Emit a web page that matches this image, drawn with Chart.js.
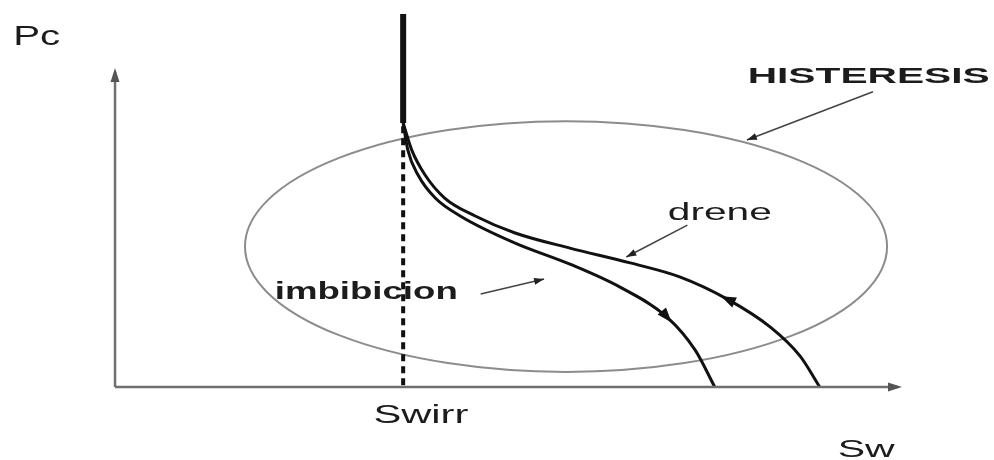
<!DOCTYPE html>
<html lang="es">
<head>
    <meta charset="UTF-8">
    <title>Histeresis - Pc vs Sw</title>
    <script src="https://cdn.jsdelivr.net/npm/chart.js"></script>
    <style>
        body { margin: 0; background: #fff; }
        #wrap { width: 994px; height: 460px; position: relative; }
    </style>
</head>
<body>
    <div id="wrap"><canvas id="pcChart"></canvas></div>

    <script>
        // Sw en fraccion (0..1 a lo largo del eje), Pc normalizada (0..1 a lo largo del eje)
        const drenajeSw = [0.368, 0.379, 0.396, 0.421, 0.460, 0.511, 0.581, 0.658, 0.722, 0.782, 0.837, 0.875, 0.900];
        const drenajePc = [0.838, 0.752, 0.673, 0.600, 0.543, 0.489, 0.441, 0.394, 0.349, 0.279, 0.190, 0.098, 0.000];

        const imbibicionSw = [0.368, 0.374, 0.387, 0.409, 0.443, 0.511, 0.581, 0.645, 0.705, 0.741, 0.766];
        const imbibicionPc = [0.838, 0.752, 0.673, 0.600, 0.540, 0.457, 0.390, 0.317, 0.222, 0.117, 0.000];

        const swirr = 0.368;
        const pcTop = 1.184;     // tramo vertical superior
        const pcJoin = 0.838;    // donde se separan las curvas

        // elipse de histeresis: centro y semiejes
        const hystCenter = [0.576, 0.446];
        const hystRadius = [0.410, 0.398];

        const labels = ['Pc', 'Sw', 'Swirr', 'HISTERESIS', 'drene', 'imbibicion'];

        function pts(xs, ys) {
            return xs.map((x, i) => ({ x: x, y: ys[i] }));
        }

        const lineBase = { pointRadius: 0, showLine: true, fill: false };

        const datasets = [
            Object.assign({}, lineBase, { data: [{ x: 0, y: 0 }, { x: 1, y: 0 }], borderColor: '#6f6f6f', borderWidth: 2.5 }),
            Object.assign({}, lineBase, { data: [{ x: 0, y: 0 }, { x: 0, y: 1 }], borderColor: '#6f6f6f', borderWidth: 2.5 }),
            Object.assign({}, lineBase, { data: [{ x: swirr, y: pcJoin - 0.01 }, { x: swirr, y: 0 }], borderColor: '#111', borderWidth: 4, borderDash: [7, 5] }),
            Object.assign({}, lineBase, { data: [{ x: swirr, y: pcTop }, { x: swirr, y: pcJoin }], borderColor: '#111', borderWidth: 6 }),
            Object.assign({}, lineBase, { data: pts(drenajeSw, drenajePc), borderColor: '#111', borderWidth: 3, cubicInterpolationMode: 'monotone' }),
            Object.assign({}, lineBase, { data: pts(imbibicionSw, imbibicionPc), borderColor: '#111', borderWidth: 3, cubicInterpolationMode: 'monotone' })
        ];

        function head(ctx, x, y, ang, len, wid, color) {
            ctx.save();
            ctx.translate(x, y);
            ctx.rotate(ang);
            ctx.fillStyle = color;
            ctx.beginPath();
            ctx.moveTo(0, 0);
            ctx.lineTo(-len, -wid / 2);
            ctx.lineTo(-len, wid / 2);
            ctx.closePath();
            ctx.fill();
            ctx.restore();
        }

        function stretchText(ctx, text, x, y, font, width) {
            ctx.save();
            ctx.font = font;
            const w = ctx.measureText(text).width;
            ctx.translate(x, y);
            ctx.scale(width / w, 1);
            ctx.fillStyle = '#1c1c1c';
            ctx.textBaseline = 'alphabetic';
            ctx.fillText(text, 0, 0);
            ctx.restore();
        }

        const schematic = {
            id: 'schematic',
            beforeDatasetsDraw(chart) {
                const ctx = chart.ctx, sx = chart.scales.x, sy = chart.scales.y;
                const cx = sx.getPixelForValue(hystCenter[0]);
                const cy = sy.getPixelForValue(hystCenter[1]);
                const rx = sx.getPixelForValue(hystCenter[0] + hystRadius[0]) - cx;
                const ry = cy - sy.getPixelForValue(hystCenter[1] + hystRadius[1]);
                ctx.save();
                ctx.strokeStyle = '#8c8c8c';
                ctx.lineWidth = 2;
                ctx.beginPath();
                ctx.ellipse(cx, cy, rx, ry, 0, 0, Math.PI * 2);
                ctx.stroke();
                ctx.restore();
            },
            afterDatasetsDraw(chart) {
                const ctx = chart.ctx, sx = chart.scales.x, sy = chart.scales.y;
                const P = (x, y) => [sx.getPixelForValue(x), sy.getPixelForValue(y)];

                // puntas de los ejes
                let a = P(1, 0), b = P(0, 1);
                head(ctx, a[0] + 4, a[1], 0, 14, 9, '#555');
                head(ctx, b[0], b[1] - 4, -Math.PI / 2, 14, 9, '#555');

                // flechas sobre las curvas
                const arrows = [
                    { at: [0.782, 0.279], toward: [0.722, 0.349] },
                    { at: [0.705, 0.222], toward: [0.741, 0.117] }
                ];
                arrows.forEach(ar => {
                    const p = P(ar.at[0], ar.at[1]), q = P(ar.toward[0], ar.toward[1]);
                    const ang = Math.atan2(q[1] - p[1], q[0] - p[0]);
                    head(ctx, p[0] + 7 * Math.cos(ang), p[1] + 7 * Math.sin(ang), ang, 15, 11, '#111');
                });

                // lineas indicadoras
                const leaders = [
                    { from: [0.968, 0.937], to: [0.807, 0.784] },
                    { from: [0.731, 0.514], to: [0.653, 0.413] },
                    { from: [0.467, 0.295], to: [0.548, 0.343] }
                ];
                ctx.save();
                ctx.strokeStyle = '#444';
                ctx.lineWidth = 1.6;
                leaders.forEach(l => {
                    const p = P(l.from[0], l.from[1]), q = P(l.to[0], l.to[1]);
                    ctx.beginPath();
                    ctx.moveTo(p[0], p[1]);
                    ctx.lineTo(q[0], q[1]);
                    ctx.stroke();
                    head(ctx, q[0], q[1], Math.atan2(q[1] - p[1], q[0] - p[0]), 10, 7, '#222');
                });
                ctx.restore();

                // textos
                const place = [
                    { at: [-0.130, 1.086], font: '28px "Liberation Sans", Arial, sans-serif', w: 47 },
                    { at: [0.923, -0.222], font: '24px "Liberation Sans", Arial, sans-serif', w: 57 },
                    { at: [0.330, -0.114], font: '25px "Liberation Sans", Arial, sans-serif', w: 95 },
                    { at: [0.808, 0.965], font: 'bold 22px "Liberation Sans", Arial, sans-serif', w: 242 },
                    { at: [0.706, 0.530], font: '23px "Liberation Sans", Arial, sans-serif', w: 104 },
                    { at: [0.204, 0.279], font: 'bold 23px "Liberation Sans", Arial, sans-serif', w: 183 }
                ];
                labels.forEach((t, i) => {
                    const p = P(place[i].at[0], place[i].at[1]);
                    stretchText(ctx, t, p[0], p[1], place[i].font, place[i].w);
                });
            }
        };

        new Chart(document.getElementById('pcChart'), {
            type: 'scatter',
            data: { datasets: datasets },
            options: {
                responsive: true,
                maintainAspectRatio: false,
                animation: false,
                layout: { padding: 0 },
                plugins: { legend: { display: false }, tooltip: { enabled: false } },
                scales: {
                    x: { type: 'linear', display: false, min: -0.1469, max: 1.1226 },
                    y: { type: 'linear', display: false, min: -0.2317, max: 1.2286 }
                }
            },
            plugins: [schematic]
        });
    </script>
</body>
</html>
